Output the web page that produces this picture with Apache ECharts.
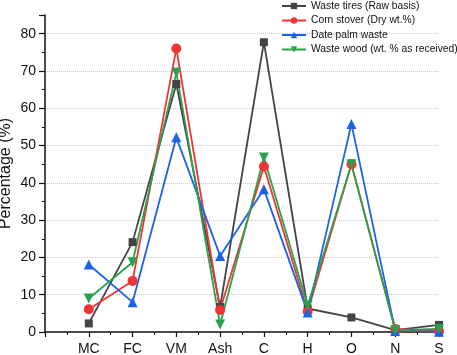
<!DOCTYPE html>
<html>
<head>
<meta charset="utf-8">
<script src="https://cdn.jsdelivr.net/npm/echarts@6/dist/echarts.min.js"></script>
<style>
  html, body { margin: 0; padding: 0; background: #fff; }
  #chart { width: 457px; height: 355px; }
</style>
</head>
<body>
<div id="chart"></div>
<script>
const categories = ['MC', 'FC', 'VM', 'Ash', 'C', 'H', 'O', 'N', 'S']
const wasteTires = [2.3, 24.1, 66.5, 6.7, 77.7, 6.3, 3.9, 0.5, 1.9]
const cornStover = [6.1, 13.7, 76, 5.9, 44.4, 5.5, 45, 0.8, 0.2]
const datePalm = [18.1, 8, 52.2, 20.4, 38.3, 5.2, 55.8, 0.3, 0.1]
const wasteWood = [9, 18.7, 69.6, 2, 46.8, 7.1, 45, 0.5, 0.8]
const yTicks = [0, 10, 20, 30, 40, 50, 60, 70, 80]

const font = '"Liberation Sans", Arial, sans-serif'

function toPoints(vals) {
  return vals.map((v, i) => [i + 1, v])
}

function line(name, vals, color, symbol, rotate) {
  return {
    name,
    type: 'line',
    data: toPoints(vals),
    color,
    symbol,
    symbolSize: symbol === 'rect' ? 8 : 10,
    symbolRotate: rotate || 0,
    lineStyle: { width: 1.8, color },
    itemStyle: { color },
  }
}

const chart = echarts.init(document.getElementById('chart'))
chart.setOption({
  animation: false,
  textStyle: { fontFamily: font },
  grid: { left: 45, right: 18, top: 15, bottom: 23, containLabel: false, outerBoundsMode: 'none' },
  legend: {
    orient: 'vertical',
    left: 281,
    top: 1,
    padding: 0,
    itemWidth: 24,
    itemHeight: 8,
    itemGap: 4.5,
    textStyle: { fontSize: 10.3, lineHeight: 8, color: '#111', fontFamily: font },
    data: ['Waste tires (Raw basis)', 'Corn stover (Dry wt.%)', 'Date palm waste', 'Waste wood (wt. % as received)'],
  },
  xAxis: {
    type: 'value',
    min: 0,
    max: 9,
    interval: 1,
    axisLine: { lineStyle: { color: '#111', width: 1.5 } },
    axisTick: { inside: false, length: 5, lineStyle: { color: '#111', width: 1.2 } },
    minorTick: { show: true, splitNumber: 2, length: 3, lineStyle: { color: '#111', width: 1 } },
    splitLine: { show: false },
    axisLabel: {
      fontSize: 14,
      color: '#111',
      margin: 10,
      formatter: (v) => (v >= 1 && v <= categories.length ? categories[v - 1] : ''),
    },
  },
  yAxis: {
    type: 'value',
    min: 0,
    max: 85,
    interval: 10,
    name: 'Percentage (%)',
    nameLocation: 'middle',
    nameGap: 31,
    nameMoveOverlap: false,
    nameTextStyle: { fontSize: 16, color: '#111' },
    axisLine: { show: true, lineStyle: { color: '#111', width: 1.5 } },
    axisTick: { show: true, length: 6, lineStyle: { color: '#111', width: 1.2 } },
    minorTick: { show: true, splitNumber: 2, length: 3, lineStyle: { color: '#111', width: 1 } },
    splitLine: {
      show: true,
      showMinLine: false,
      showMaxLine: false,
      lineStyle: { color: '#c8c8c8', type: 'dotted', width: 1 },
    },
    axisLabel: {
      fontSize: 14,
      color: '#111',
      margin: 9,
      formatter: (v) => (yTicks.includes(v) ? String(v) : ''),
    },
  },
  series: [
    line('Waste tires (Raw basis)', wasteTires, '#444444', 'rect'),
    line('Corn stover (Dry wt.%)', cornStover, '#f03434', 'circle'),
    line('Date palm waste', datePalm, '#1a62e8', 'triangle'),
    line('Waste wood (wt. % as received)', wasteWood, '#2aa14c', 'triangle', 180),
  ],
})
</script>
</body>
</html>
